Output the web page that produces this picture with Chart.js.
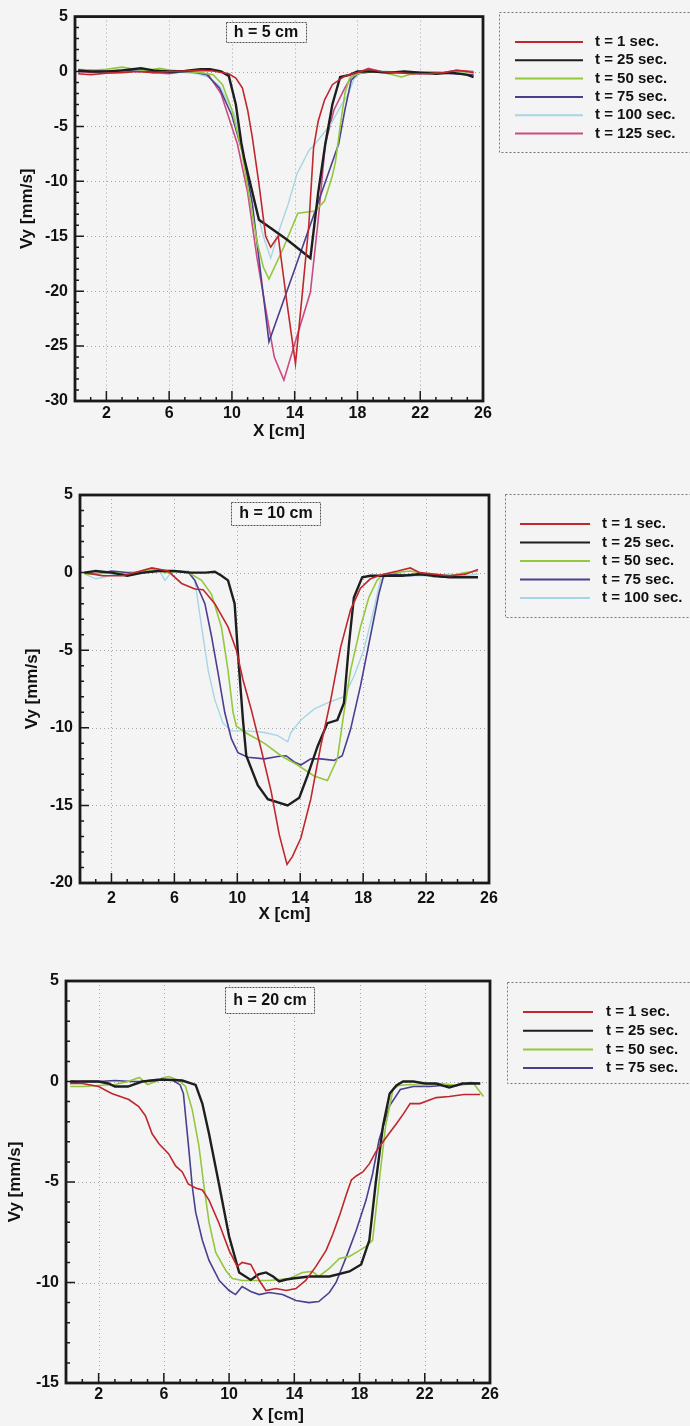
<!DOCTYPE html>
<html>
<head>
<meta charset="utf-8">
<script src="https://cdn.jsdelivr.net/npm/chart.js@4"></script>
<style>
  body { margin: 0; background: #f4f4f4; width: 690px; height: 1426px; overflow: hidden; position: relative; }
  canvas { position: absolute; left: 0; }
</style>
</head>
<body>
<canvas id="plotH5" width="690" height="446" style="top:0px"></canvas>
<canvas id="plotH10" width="690" height="475" style="top:455px"></canvas>
<canvas id="plotH20" width="690" height="486" style="top:940px"></canvas>
<script>
// Series comunes
const etiquetas = ['t = 1 sec.', 't = 25 sec.', 't = 50 sec.', 't = 75 sec.', 't = 100 sec.', 't = 125 sec.'];
const colores = ['#c0272d', '#1e1e1e', '#93c83e', '#4a3f8f', '#a6d6e6', '#cc4a82'];
const grosores = [1.6, 2.4, 1.6, 1.6, 1.4, 1.6];
const xEtiquetas = [2, 6, 10, 14, 18, 22, 26];

// h = 5 cm  ->  [X cm, Vy mm/s]
const h5_t1 = [[0.2,-0.2],[1,-0.3],[2,-0.15],[3,-0.1],[4,0],[5,-0.1],[6,0],[7,0.05],[8,0.1],[8.8,0.05],[9.8,-0.2],[10.25,-0.6],[10.67,-1.5],[11.0,-3.5],[11.3,-6],[11.72,-10.2],[12.15,-15],[12.47,-16],[12.8,-15.3],[12.95,-15],[13.5,-21],[14.05,-26.6],[14.5,-20],[14.9,-14],[15.2,-7],[15.5,-4.5],[15.9,-2.6],[16.4,-1.2],[17.2,-0.4],[18,-0.1],[18.7,0.2],[19.5,0],[20.5,-0.1],[21.5,-0.2],[22.5,-0.2],[23.5,-0.1],[24.3,0.1],[25,0],[25.4,-0.1]];
const h5_t25 = [[0.2,0.1],[1,0],[2,0],[3,0.1],[4.2,0.3],[5,0.1],[6,0],[7,0.05],[8,0.2],[8.6,0.2],[9.3,0],[9.8,-0.4],[10.25,-3],[10.6,-6.5],[10.8,-8],[11.72,-13.5],[13.5,-15.3],[15.0,-17],[15.5,-11],[15.95,-6.6],[16.4,-3],[16.9,-0.5],[17.5,-0.3],[18,0],[19,0],[20,-0.1],[21,0],[22,-0.1],[23,-0.2],[24,-0.1],[25,-0.3],[25.4,-0.5]];
const h5_t50 = [[0.2,0.2],[1,0.1],[2,0.2],[3,0.4],[3.8,0.2],[4.5,0.1],[5.4,0.3],[6.2,0.1],[7,0],[8,-0.1],[8.8,-0.3],[9.4,-1.2],[10.0,-3.5],[10.6,-7],[11.0,-10.5],[11.6,-15.5],[12.0,-17.8],[12.36,-18.9],[13.3,-16],[14.2,-12.9],[15.3,-12.7],[15.9,-11.8],[16.4,-9.5],[16.6,-8.2],[16.9,-5],[17.2,-2],[17.5,-0.6],[18,-0.2],[19,0],[20,-0.2],[20.8,-0.5],[21.5,-0.2],[22.5,0],[23.5,-0.1],[24.5,0],[25.4,-0.1]];
const h5_t75 = [[0.2,0],[1,0.1],[2,0],[3,0.1],[4,0],[5,0],[6,-0.1],[7,0],[7.8,-0.1],[8.4,-0.3],[9.2,-1.5],[10.0,-4],[10.7,-7.5],[11.3,-12],[11.8,-18],[12.36,-24.6],[14,-18],[15.5,-11.9],[16.8,-6.6],[17.2,-3.5],[17.6,-0.8],[18,-0.2],[19,0],[20,-0.1],[21,0],[22,-0.2],[23,-0.1],[24,-0.2],[25.4,-0.3]];
const h5_t100 = [[0.2,0.1],[1,0],[2,0.1],[3,0],[4,0.1],[5,0],[6,0],[7,-0.1],[7.8,-0.2],[8.5,-0.5],[9.2,-1.3],[10.2,-4],[10.8,-8],[11.5,-12],[12.0,-15],[12.47,-17],[13.0,-14.5],[13.6,-12],[14.15,-9.3],[14.9,-7.2],[15.3,-6.6],[16.3,-4.8],[17.0,-3.0],[17.4,-2.1],[17.8,-0.6],[18.3,0],[19,0.1],[20,0],[21,-0.1],[22,0],[23,-0.1],[24,0],[25.4,-0.1]];
const h5_t125 = [[0.2,0],[1,-0.1],[2,0],[3,0],[4,0.1],[5,-0.1],[6,-0.2],[7,0],[7.8,-0.1],[8.5,-0.3],[9.3,-2],[10.35,-6.6],[11.0,-11],[11.6,-17],[12.15,-21.6],[12.7,-26],[13.31,-28.1],[14.1,-24.3],[15.0,-20.1],[15.5,-13.5],[15.95,-6.6],[16.5,-3.5],[17.2,-1.5],[17.6,-0.5],[18.2,0],[18.7,0.3],[19.5,0],[20.5,-0.1],[21.5,-0.2],[22.5,-0.1],[23.5,-0.1],[24.3,0.1],[25.4,0]];

// h = 10 cm
const h10_t1 = [[0.3,0],[1.4,-0.2],[2.7,-0.2],[3.5,0],[4.57,0.3],[5.6,0.1],[6.46,-0.7],[7.3,-1.06],[7.83,-1.1],[8.57,-2.0],[9.41,-3.5],[9.94,-5],[10.36,-6.9],[10.88,-8.8],[11.52,-11.4],[12.15,-14.1],[12.67,-16.9],[13.16,-18.8],[13.5,-18.3],[14.04,-17.1],[14.67,-14.6],[15.3,-11.2],[15.94,-8.2],[16.57,-4.8],[17.2,-2.4],[17.83,-1.0],[18.46,-0.4],[19.3,-0.1],[20.2,0.1],[21,0.3],[21.6,0],[22.5,-0.1],[23.5,-0.2],[24.5,-0.1],[25.3,0.2]];
const h10_t25 = [[0.3,0],[1,0.1],[2,0],[3,-0.2],[4,0],[5,0.1],[6,0.1],[7,0],[8,0],[8.57,0.05],[9.0,-0.2],[9.41,-0.5],[9.83,-2.0],[10.04,-5.2],[10.36,-9.5],[10.57,-11.8],[11.3,-13.7],[11.94,-14.6],[13.2,-15.0],[13.94,-14.5],[14.46,-13.1],[15.1,-11.2],[15.73,-9.7],[16.36,-9.5],[16.78,-8.4],[17.1,-4.6],[17.41,-1.6],[17.94,-0.3],[18.46,-0.2],[19.5,-0.2],[20.5,-0.2],[21.5,-0.1],[22.5,-0.2],[23.5,-0.3],[24.5,-0.3],[25.3,-0.3]];
const h10_t50 = [[0.3,-0.1],[1,-0.1],[2,0],[3,-0.1],[4,0.1],[4.7,0.2],[5.5,0],[6.2,0.1],[6.9,0],[7.73,-0.5],[8.36,-1.4],[8.99,-3.5],[9.41,-6.3],[9.73,-9.0],[9.94,-9.9],[10.67,-10.4],[11.73,-11.0],[12.78,-11.8],[13.83,-12.4],[14.88,-13.1],[15.73,-13.4],[16.36,-12.0],[16.78,-9.0],[17.2,-6.3],[17.83,-3.5],[18.36,-1.6],[18.88,-0.5],[19.3,-0.1],[20,0],[21,0.1],[22,-0.1],[22.5,-0.3],[23.5,-0.2],[24.5,0],[25.3,0.1]];
const h10_t75 = [[0.3,0],[1,-0.1],[2,0.1],[3,0],[4,0],[5,0.1],[6,0.1],[6.9,0],[7.3,-0.5],[7.94,-2.0],[8.36,-4.1],[8.78,-6.5],[9.2,-9.0],[9.62,-10.7],[10.04,-11.6],[10.67,-11.9],[11.73,-12.0],[12.57,-11.85],[13.1,-11.8],[13.62,-12.2],[14.04,-12.4],[14.67,-12.0],[15.3,-12.0],[16.15,-12.1],[16.67,-11.8],[17.2,-10.1],[17.83,-7.3],[18.46,-4.1],[18.99,-1.4],[19.3,-0.2],[20,-0.1],[21,-0.2],[22,-0.1],[23,-0.3],[24,-0.3],[25.3,-0.3]];
const h10_t100 = [[0.3,-0.1],[1,-0.4],[1.5,-0.3],[2.5,0],[3.5,-0.1],[4.3,0.1],[5.0,0.2],[5.4,-0.5],[5.8,0],[6.5,0.1],[6.88,0.1],[7.3,-0.5],[7.73,-3.5],[8.15,-6.3],[8.57,-8.2],[9.09,-9.7],[9.62,-10.2],[10.67,-10.2],[11.73,-10.3],[12.57,-10.5],[13.2,-10.9],[13.41,-10.3],[14.04,-9.5],[14.88,-8.8],[15.73,-8.4],[16.78,-8.0],[17.41,-6.7],[18.04,-5],[18.67,-2.4],[19.09,-0.5],[19.5,-0.2],[20.5,-0.1],[21.5,-0.2],[22.5,-0.2],[23.5,-0.1],[24.5,-0.2],[25.3,-0.1]];

// h = 20 cm
const h20_t1 = [[0.26,-0.1],[1,-0.1],[2,-0.25],[2.8,-0.6],[3.85,-0.9],[4.46,-1.25],[4.87,-1.7],[5.28,-2.6],[5.7,-3.1],[6.3,-3.6],[6.72,-4.2],[7.13,-4.5],[7.5,-5.1],[7.95,-5.3],[8.36,-5.4],[8.77,-5.9],[9.38,-7.05],[10.0,-8.4],[10.5,-9.2],[10.8,-9.0],[11.33,-9.1],[11.85,-9.9],[12.26,-10.4],[12.87,-10.3],[13.5,-10.4],[14.1,-10.3],[14.7,-9.9],[15.33,-9.2],[15.95,-8.4],[16.36,-7.6],[16.8,-6.6],[17.2,-5.6],[17.5,-4.9],[17.8,-4.7],[18.2,-4.5],[18.6,-4.1],[19.0,-3.5],[19.44,-3.0],[19.8,-2.6],[20.26,-2.1],[20.7,-1.6],[21.1,-1.1],[21.7,-1.1],[22.7,-0.8],[23.5,-0.75],[24.4,-0.65],[25.4,-0.65]];
const h20_t25 = [[0.26,0],[1,0],[2,0],[2.6,-0.1],[3.0,-0.25],[3.8,-0.25],[4.67,0],[5.9,0.1],[7.13,0.05],[7.95,-0.17],[8.36,-1.1],[8.77,-2.6],[9.38,-5.1],[10.0,-7.7],[10.62,-9.5],[11.33,-9.87],[11.8,-9.6],[12.26,-9.5],[12.7,-9.7],[13.08,-9.95],[13.5,-9.85],[13.9,-9.8],[14.92,-9.7],[16.15,-9.7],[17.38,-9.45],[18.1,-9.1],[18.6,-7.9],[19.0,-5.0],[19.44,-2.2],[19.85,-0.6],[20.26,-0.2],[20.67,0],[21.3,0],[22,-0.1],[22.7,-0.1],[23.5,-0.3],[24.3,-0.1],[25.4,-0.1]];
const h20_t50 = [[0.26,-0.25],[1,-0.25],[2,-0.2],[3,-0.15],[3.8,0],[4.5,0.2],[5.0,-0.15],[5.5,0],[5.9,0.17],[6.3,0.25],[6.92,0.05],[7.33,-0.25],[7.74,-1.4],[8.15,-3.2],[8.46,-5.2],[8.77,-7.0],[9.18,-8.5],[9.8,-9.4],[10.2,-9.8],[10.8,-9.9],[12.46,-9.9],[13.7,-9.8],[14.5,-9.5],[15.1,-9.45],[15.5,-9.7],[16.15,-9.3],[16.77,-8.8],[17.38,-8.7],[18.0,-8.4],[18.4,-8.2],[18.8,-7.9],[19.2,-5.0],[19.6,-2.2],[20.05,-0.4],[20.4,-0.2],[21.1,-0.15],[22,-0.2],[23,-0.1],[24,-0.2],[25.0,-0.1],[25.6,-0.75]];
const h20_t75 = [[0.26,-0.1],[1,0],[2,0],[3,0.05],[4,0],[4.67,0],[5.5,0.1],[6.5,0.08],[7.0,-0.17],[7.2,-0.6],[7.5,-3.1],[7.74,-5.2],[7.95,-6.5],[8.36,-7.9],[8.77,-8.9],[9.4,-9.9],[10.0,-10.4],[10.4,-10.6],[10.8,-10.2],[11.33,-10.45],[11.85,-10.6],[12.46,-10.5],[13.28,-10.6],[14.1,-10.9],[14.9,-11.0],[15.5,-10.95],[16.15,-10.5],[16.56,-10.0],[17.2,-8.7],[17.8,-7.4],[18.4,-5.9],[18.8,-4.6],[19.2,-2.9],[19.85,-1.2],[20.5,-0.4],[21.3,-0.25],[22.3,-0.25],[23,-0.2],[24,-0.2],[24.8,-0.05],[25.4,-0.1]];

// Rejilla punteada, marco grueso y marcas hacia adentro
let marco = {
  id: 'marco',
  beforeDatasetsDraw: (chart) => {
    let {ctx, chartArea: a, scales: {x, y}} = chart;
    ctx.save();
    ctx.strokeStyle = '#a4a4a4';
    ctx.lineWidth = 1;
    ctx.setLineDash([1, 3]);
    ctx.beginPath();
    xEtiquetas.forEach(v => {
      if (v > x.min && v < x.max) {
        let px = Math.round(x.getPixelForValue(v)) + 0.5;
        ctx.moveTo(px, a.top); ctx.lineTo(px, a.bottom);
      }
    });
    for (let v = y.min + 5; v < y.max; v += 5) {
      let py = Math.round(y.getPixelForValue(v)) + 0.5;
      ctx.moveTo(a.left, py); ctx.lineTo(a.right, py);
    }
    ctx.stroke();
    ctx.restore();
  },
  afterDatasetsDraw: (chart) => {
    let {ctx, chartArea: a, scales: {x, y}} = chart;
    ctx.save();
    ctx.strokeStyle = '#1a1a1a';
    ctx.lineWidth = 1.5;
    ctx.beginPath();
    for (let v = Math.ceil(x.min) + 1; v < x.max; v++) {
      let px = x.getPixelForValue(v);
      let largo = xEtiquetas.includes(v) ? 10 : 4;
      ctx.moveTo(px, a.bottom); ctx.lineTo(px, a.bottom - largo);
    }
    for (let v = y.min + 1; v < y.max; v++) {
      let py = y.getPixelForValue(v);
      let largo = v % 5 === 0 ? 9 : 4;
      ctx.moveTo(a.left, py); ctx.lineTo(a.left + largo, py);
    }
    ctx.stroke();
    ctx.lineWidth = 2.8;
    ctx.strokeRect(a.left, a.top, a.right - a.left, a.bottom - a.top);
    ctx.restore();
  }
};

// Recuadro con la altura h
let rotulo = {
  id: 'rotulo',
  afterDraw: (chart, args, o) => {
    let ctx = chart.ctx;
    ctx.save();
    ctx.font = 'bold 16px "Liberation Sans", Arial, sans-serif';
    let ancho = ctx.measureText(o.texto).width + 16;
    ctx.fillStyle = '#f6f6f6';
    ctx.fillRect(o.cx - ancho / 2, o.cy - o.alto / 2, ancho, o.alto);
    ctx.strokeStyle = '#555';
    ctx.lineWidth = 1;
    ctx.setLineDash([2, 1]);
    ctx.strokeRect(Math.round(o.cx - ancho / 2) + 0.5, Math.round(o.cy - o.alto / 2) + 0.5, Math.round(ancho), o.alto);
    ctx.fillStyle = '#111';
    ctx.textAlign = 'center';
    ctx.textBaseline = 'middle';
    ctx.fillText(o.texto, o.cx, o.cy + 1);
    ctx.restore();
  }
};

// Leyenda en caja a la derecha del gráfico
let leyenda = {
  id: 'leyenda',
  afterDraw: (chart, args, o) => {
    let ctx = chart.ctx;
    ctx.save();
    ctx.strokeStyle = '#777';
    ctx.lineWidth = 1;
    ctx.setLineDash([2, 2]);
    ctx.strokeRect(o.x + 0.5, o.y + 0.5, 400, o.alto);
    ctx.setLineDash([]);
    ctx.font = 'bold 15px "Liberation Sans", Arial, sans-serif';
    ctx.textBaseline = 'middle';
    chart.data.datasets.forEach((ds, i) => {
      let yy = o.fila0 + i * o.paso;
      ctx.strokeStyle = ds.borderColor;
      ctx.lineWidth = 2;
      ctx.beginPath();
      ctx.moveTo(o.linea0, yy); ctx.lineTo(o.linea1, yy);
      ctx.stroke();
      ctx.fillStyle = '#111';
      ctx.fillText(ds.label, o.texto, yy);
    });
    ctx.restore();
  }
};

Chart.defaults.font.family = '"Liberation Sans", Arial, sans-serif';
Chart.defaults.color = '#111';

let crearGrafico = (idCanvas, series, cfg) => {
  let datasets = series.map((puntos, i) => ({
    label: etiquetas[i],
    data: puntos.map(([x, y]) => ({x, y})),
    borderColor: colores[i],
    borderWidth: grosores[i],
    pointRadius: 0,
    tension: 0,
    fill: false
  }));

  return new Chart(document.getElementById(idCanvas), {
    type: 'line',
    data: {datasets},
    options: {
      responsive: false,
      animation: false,
      events: [],
      layout: {padding: {top: cfg.arriba, right: cfg.derecha, left: 0, bottom: 0}},
      plugins: {
        legend: {display: false},
        tooltip: {enabled: false},
        rotulo: cfg.rotulo,
        leyenda: cfg.leyenda
      },
      scales: {
        x: {
          type: 'linear',
          min: 0,
          max: 26,
          grid: {display: false, drawTicks: false},
          border: {display: false},
          afterBuildTicks: (s) => { s.ticks = xEtiquetas.map(v => ({value: v})); },
          afterFit: (s) => { s.height = cfg.altoX; },
          ticks: {font: {size: 16, weight: 'bold'}, padding: cfg.padX, maxRotation: 0, autoSkip: false},
          title: {display: true, text: 'X [cm]', font: {size: 17, weight: 'bold'}, padding: {top: 0, bottom: cfg.tituloX}}
        },
        y: {
          type: 'linear',
          min: cfg.yMin,
          max: 5,
          grid: {display: false, drawTicks: false},
          border: {display: false},
          afterFit: (s) => { s.width = cfg.anchoY; },
          ticks: {stepSize: 5, font: {size: 16, weight: 'bold'}, padding: 7},
          title: {display: true, text: 'Vy [mm/s]', font: {size: 17, weight: 'bold'}, padding: {top: cfg.tituloY, bottom: 0}}
        }
      }
    },
    plugins: [marco, rotulo, leyenda]
  });
};

crearGrafico('plotH5', [h5_t1, h5_t25, h5_t50, h5_t75, h5_t100, h5_t125], {
  arriba: 13, derecha: 207, anchoY: 75, altoX: 45, yMin: -30, padX: 3, tituloX: 4, tituloY: 17,
  rotulo: {texto: 'h = 5 cm', cx: 266, cy: 32, alto: 20},
  leyenda: {x: 499, y: 12, alto: 140, fila0: 42, paso: 18.3, linea0: 515, linea1: 583, texto: 595}
});

crearGrafico('plotH10', [h10_t1, h10_t25, h10_t50, h10_t75, h10_t100], {
  arriba: 40, derecha: 201, anchoY: 80, altoX: 47, yMin: -20, padX: 6, tituloX: 5, tituloY: 22,
  rotulo: {texto: 'h = 10 cm', cx: 276, cy: 58, alto: 23},
  leyenda: {x: 505, y: 39, alto: 123, fila0: 69, paso: 18.5, linea0: 520, linea1: 590, texto: 602}
});

crearGrafico('plotH20', [h20_t1, h20_t25, h20_t50, h20_t75], {
  arriba: 41, derecha: 200, anchoY: 66, altoX: 43, yMin: -15, padX: 2, tituloX: 0, tituloY: 5,
  rotulo: {texto: 'h = 20 cm', cx: 270, cy: 60, alto: 26},
  leyenda: {x: 507, y: 42, alto: 101, fila0: 72, paso: 18.7, linea0: 523, linea1: 593, texto: 606}
});
</script>
</body>
</html>
